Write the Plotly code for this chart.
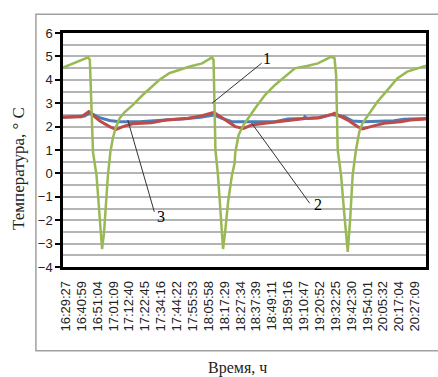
import plotly.graph_objects as go

# Category tick labels (equally spaced positions 0..22)
tick_labels = ["16:29:27", "16:40:59", "16:51:04", "17:01:09", "17:12:40", "17:22:45",
               "17:34:16", "17:44:22", "17:55:53", "18:05:58", "18:17:29", "18:27:34",
               "18:37:39", "18:49:11", "18:59:16", "19:10:47", "19:20:52", "19:32:25",
               "19:42:30", "19:54:01", "20:05:32", "20:17:04", "20:27:09"]
tick_pos = list(range(len(tick_labels)))

# Series 1 (blue)
s1_x = [-0.17, 1.2, 1.52, 2.13, 2.76, 3.39, 4.64, 5.68, 6.51, 7.66, 8.5, 9.0, 9.33, 9.85,
        10.47, 13.18, 13.59, 14.0, 15.0, 15.06, 15.2, 16.0, 16.71, 17.55, 18.07, 18.8,
        20.67, 21.3, 22.69]
s1_y = [2.40, 2.45, 2.60, 2.38, 2.26, 2.21, 2.21, 2.25, 2.31, 2.35, 2.40, 2.45, 2.50, 2.35,
        2.21, 2.21, 2.28, 2.33, 2.35, 2.42, 2.35, 2.38, 2.52, 2.42, 2.24, 2.21,
        2.25, 2.31, 2.35]

# Series 2 (red)
s2_x = [-0.17, 1.0, 1.45, 2.13, 2.76, 3.18, 3.6, 4.22, 5.39, 5.89, 6.3, 7.66, 8.59, 9.33,
        10.06, 10.68, 11.2, 11.72, 12.55, 13.39, 14.01, 15.06, 15.9, 16.71, 16.93, 17.76,
        18.38, 18.69, 19.21, 20.05, 21.09, 21.71, 22.69]
s2_y = [2.40, 2.42, 2.64, 2.25, 2.00, 1.88, 2.00, 2.12, 2.16, 2.24, 2.28, 2.35, 2.47, 2.61,
        2.28, 2.00, 1.92, 2.07, 2.14, 2.21, 2.28, 2.35, 2.38, 2.50, 2.57, 2.28,
        2.00, 1.90, 2.00, 2.14, 2.21, 2.28, 2.33]

# Series 3 (green)
s3_x = [-0.17, 1.41, 1.52, 1.58, 1.66, 1.72, 1.94, 2.10, 2.29, 2.41, 2.56, 2.66, 2.81, 2.97,
        3.14, 3.39, 3.70, 4.22, 4.85, 5.47, 5.89, 6.52, 7.14, 7.76, 8.59, 9.22, 9.31,
        9.36, 9.43, 9.59, 9.73, 9.91, 10.04, 10.23, 10.47, 10.64, 10.68, 10.89, 11.20,
        11.51, 11.93, 12.55, 13.18, 13.80, 14.43, 15.26, 15.88, 16.51, 16.71, 16.93,
        17.03, 17.13, 17.34, 17.54, 17.76, 17.92, 18.07, 18.28, 18.49, 18.69, 19.11,
        19.63, 20.26, 20.88, 21.51, 22.13, 22.69]
s3_y = [4.52, 4.96, 4.85, 3.50, 1.64, 0.90, -0.07, -1.56, -3.23, -2.56, -1.14, -0.07, 0.90,
        1.50, 1.93, 2.35, 2.61, 2.92, 3.35, 3.71, 3.99, 4.28, 4.43, 4.56, 4.70, 4.96, 4.85,
        3.50, 1.00, -0.07, -1.60, -3.23, -2.50, -1.20, -0.07, 0.44, 0.90, 1.64, 2.07,
        2.35, 2.78, 3.35, 3.78, 4.13, 4.49, 4.60, 4.70, 4.92, 4.99, 4.92,
        4.20, 1.00, -0.07, -1.70, -3.35, -1.90, -0.07, 1.00, 1.78, 2.14, 2.57,
        3.06, 3.56, 4.06, 4.35, 4.49, 4.60]

X_RANGE = [-0.17, 22.69]
Y_RANGE = [-4, 6]

fig = go.Figure()
fig.add_trace(go.Scatter(x=s1_x, y=s1_y, mode="lines", line=dict(color="#4A7EBB", width=3),
                         showlegend=False))
fig.add_trace(go.Scatter(x=s2_x, y=s2_y, mode="lines", line=dict(color="#BE4B48", width=3),
                         showlegend=False))
fig.add_trace(go.Scatter(x=s3_x, y=s3_y, mode="lines", line=dict(color="#98B954", width=2.5),
                         showlegend=False))

zero_pos = (0 - Y_RANGE[0]) / (Y_RANGE[1] - Y_RANGE[0])
hatch = dict(overlaying="x", matches="x", anchor="free", position=zero_pos,
             showline=True, linecolor="#8C8C8C", linewidth=1.5,
             tickmode="linear", tick0=-1 / 12, dtick=1 / 6, ticklen=3, tickwidth=1.2,
             tickcolor="#8C8C8C", showticklabels=False, showgrid=False, zeroline=False)

fig.update_layout(
    width=438, height=377,
    margin=dict(l=63, r=9, t=33, b=110),
    paper_bgcolor="white", plot_bgcolor="white",
    xaxis=dict(range=X_RANGE, tickmode="array", tickvals=tick_pos, ticktext=tick_labels,
               tickangle=-90, ticks="", showgrid=False, zeroline=False,
               showline=True, linecolor="black", linewidth=2.5, mirror=True,
               tickfont=dict(family="Liberation Sans, Arial", size=13, color="#222"),
               ticklabelstandoff=6),
    xaxis2=dict(hatch, ticks="outside"),
    xaxis3=dict(hatch, ticks="inside"),
    yaxis=dict(range=Y_RANGE, tickmode="linear", tick0=-4, dtick=1,
               ticks="outside", ticklen=5, tickcolor="black", tickwidth=1.5,
               showline=True, linecolor="black", linewidth=2.5, mirror=True,
               showgrid=True, gridcolor="#B4B4B4", gridwidth=1.5, zeroline=False,
               minor=dict(dtick=0.5, showgrid=True, gridcolor="#B4B4B4", gridwidth=1.5),
               tickfont=dict(family="Liberation Sans, Arial", size=13, color="#222")),
    shapes=[
        dict(type="rect", xref="paper", yref="paper", x0=-0.0746, x1=1.06, y0=-0.358, y1=1.080,
             line=dict(color="#A0A0A0", width=1.5), fillcolor="rgba(0,0,0,0)", layer="below"),
        dict(type="line", xref="x", yref="y", x0=12.34, y0=4.71, x1=9.22, y1=3.0,
             line=dict(color="#333", width=1)),
        dict(type="line", xref="x", yref="y", x0=11.72, y0=2.14, x1=15.37, y1=-1.28,
             line=dict(color="#333", width=1)),
        dict(type="line", xref="x", yref="y", x0=3.91, y0=2.28, x1=5.58, y1=-1.64,
             line=dict(color="#333", width=1)),
    ],
    annotations=[
        dict(text="1", x=12.65, y=4.93, xref="x", yref="y", showarrow=False,
             font=dict(family="Liberation Serif, Times New Roman", size=16, color="black")),
        dict(text="2", x=15.87, y=-1.35, xref="x", yref="y", showarrow=False,
             font=dict(family="Liberation Serif, Times New Roman", size=16, color="black")),
        dict(text="3", x=6.0, y=-1.85, xref="x", yref="y", showarrow=False,
             font=dict(family="Liberation Serif, Times New Roman", size=16, color="black")),
        dict(text="Температура, ° C", x=-0.124, y=0.423, xref="paper", yref="paper",
             textangle=-90, showarrow=False, xanchor="center", yanchor="middle",
             font=dict(family="Liberation Serif, Times New Roman", size=17, color="#222")),
        dict(text="Время, ч", x=0.481, y=-0.432, xref="paper", yref="paper",
             showarrow=False, xanchor="center", yanchor="middle",
             font=dict(family="Liberation Serif, Times New Roman", size=16, color="#222")),
    ],
)

fig.write_html("out.html", config={"displayModeBar": False},
               post_script="document.body.style.margin='0';")
